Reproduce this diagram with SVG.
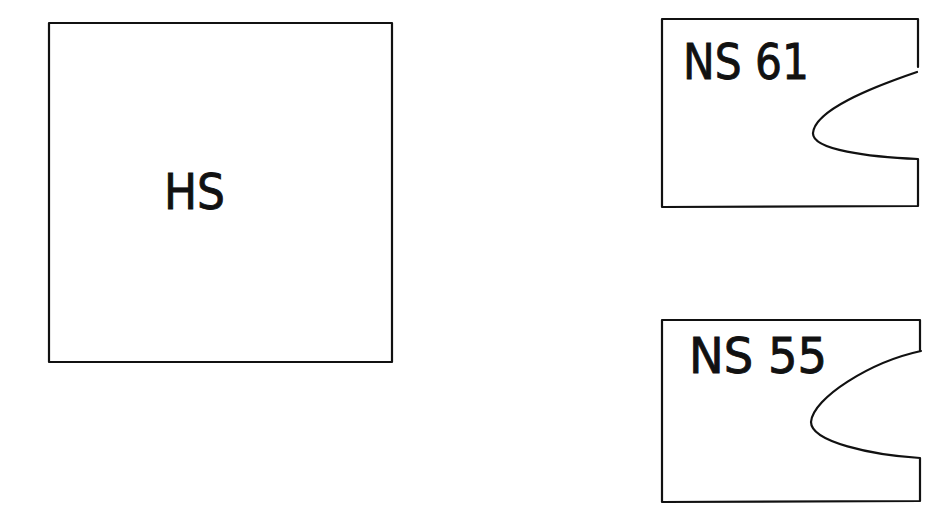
<svg xmlns="http://www.w3.org/2000/svg" width="943" height="516" viewBox="0 0 943 516">
<style>
.b{fill:none;stroke:#111;stroke-width:2.2;stroke-linejoin:round;stroke-linecap:round}
.t{font-family:"DejaVu Sans","Liberation Sans",sans-serif;font-size:49px;fill:#111;stroke:#111;stroke-width:0.9}
</style>
<rect width="943" height="516" fill="#fff"/>
<g id="hs">
<rect class="b" x="49" y="23" width="343" height="339"/>
<text class="t" x="164" y="209" textLength="61" lengthAdjust="spacingAndGlyphs">HS</text>
</g>
<g id="ns61">
<path class="b" d="M918,67 L918,19 L662,19 L662,207 L918,206 L918,159 C870,157 812,150 813,133 C815,110 870,88 917,72"/>
<text class="t" x="683" y="79" textLength="126" lengthAdjust="spacingAndGlyphs">NS 61</text>
</g>
<g id="ns55">
<path class="b" d="M920,350 L920,320 L662,320 L662,502 L920,501 L920,458 C872,455 811,442 811,422 C813,398 870,362 921,351"/>
<text class="t" x="689" y="373" textLength="138" lengthAdjust="spacingAndGlyphs">NS 55</text>
</g>
<g id="connectors"></g>
</svg>
